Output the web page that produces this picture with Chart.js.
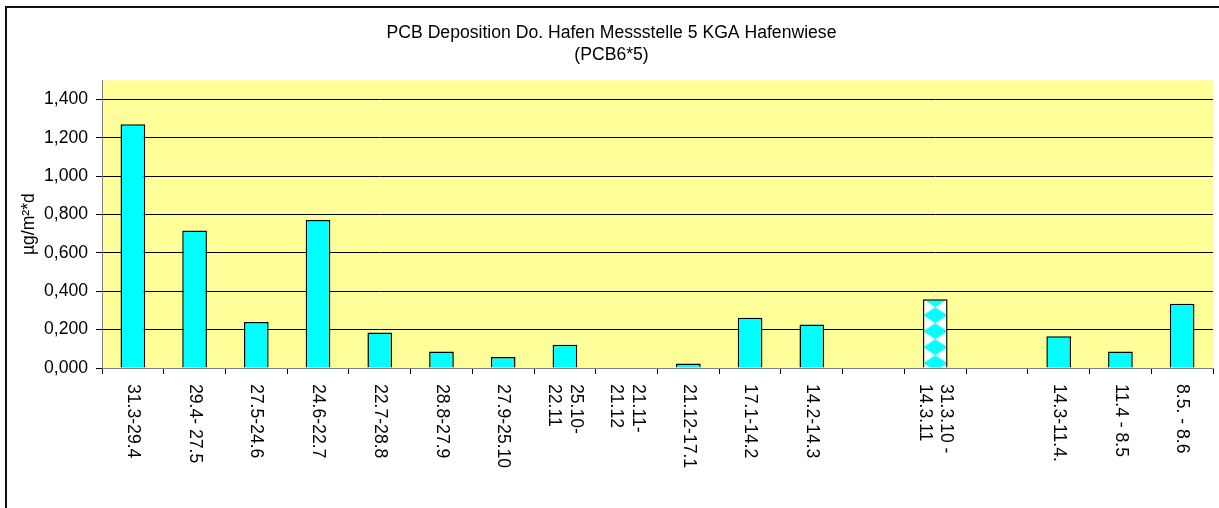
<!DOCTYPE html>
<html>
<head>
<meta charset="utf-8">
<script src="https://cdn.jsdelivr.net/npm/chart.js@4.4.1/dist/chart.umd.min.js"></script>
<style>
  html, body { margin: 0; padding: 0; background: #fff; overflow: hidden; }
  #wrap { position: relative; width: 1219px; height: 508px; }
  #rahmen { position: absolute; left: 5px; top: 6px; width: 1400px; height: 700px; border: 2px solid #111; pointer-events: none; }
</style>
</head>
<body>
<div id="wrap">
  <canvas id="grafico" width="1219" height="508"></canvas>
  <div id="rahmen"></div>
</div>
<script>
// Messzeiträume (Kategorien), mehrzeilige Beschriftungen als Arrays
const kategorien = [
  '31.3-29.4', '29.4- 27.5', '27.5-24.6', '24.6-22.7', '22.7-28.8', '28.8-27.9',
  '27.9-25.10', ['25.10-', '22.11'], ['21.11-', '21.12'], '21.12-17.1', '17.1-14.2',
  '14.2-14.3', '', ['31.3.10 -', '14.3.11'], '', '14.3-11.4.', '11.4 - 8.5', '8.5. - 8.6'
];

// PCB Deposition in µg/m²*d
const werte = [
  1.270, 0.717, 0.240, 0.771, 0.185, 0.086, 0.057, 0.121, null,
  0.024, 0.262, 0.227, null, 0.359, null, 0.165, 0.086, 0.335
];

// Y-Achsen-Beschriftung
const yTicks = [0, 0.2, 0.4, 0.6, 0.8, 1.0, 1.2, 1.4];

// Jahreswert (gemustert dargestellt)
const musterIndex = 13;

const schrift = "'Liberation Sans', Arial, sans-serif";
const groesse = 17.6;

// Rautenmuster weiß/cyan für den Jahresbalken
const erzeugeMuster = (ctx) => {
  const b = 24, h = 16;
  const kachel = document.createElement('canvas');
  kachel.width = b;
  kachel.height = h;
  const k = kachel.getContext('2d');
  k.fillStyle = '#ffffff';
  k.fillRect(0, 0, b, h);
  k.fillStyle = '#00ffff';
  k.beginPath();
  k.moveTo(b / 2, 0);
  k.lineTo(b, h / 2);
  k.lineTo(b / 2, h);
  k.lineTo(0, h / 2);
  k.closePath();
  k.fill();
  return { muster: ctx.createPattern(kachel, 'repeat'), b, h };
};

const canvas = document.getElementById('grafico');
const ctx = canvas.getContext('2d');
const raute = erzeugeMuster(ctx);

const farben = werte.map((_, i) => (i === musterIndex ? raute.muster : '#00ffff'));

// Hintergrund der Zeichenfläche
const hintergrund = {
  id: 'hintergrund',
  beforeDraw(chart) {
    const { ctx, chartArea } = chart;
    ctx.save();
    ctx.fillStyle = '#ffff99';
    ctx.fillRect(chartArea.left, chartArea.top, chartArea.right - chartArea.left, chartArea.bottom - chartArea.top);
    ctx.restore();
  },
  beforeDatasetsDraw(chart) {
    const el = chart.getDatasetMeta(0).data[musterIndex];
    if (el) {
      raute.muster.setTransform(new DOMMatrix().translate(el.x - raute.b / 2, el.y - raute.h / 2));
    }
  }
};

// Senkrechte Beschriftung der Kategorien (von oben nach unten gelesen)
const xBeschriftung = {
  id: 'xBeschriftung',
  afterDraw(chart) {
    const { ctx } = chart;
    const xAchse = chart.scales.x;
    const zeilenHoehe = 21.5;
    ctx.save();
    ctx.font = `${groesse}px ${schrift}`;
    ctx.fillStyle = '#000';
    ctx.textAlign = 'left';
    ctx.textBaseline = 'middle';
    kategorien.forEach((kat, i) => {
      const zeilen = Array.isArray(kat) ? kat : [kat];
      const x = xAchse.getPixelForValue(i);
      ctx.save();
      ctx.translate(x, xAchse.top + 16);
      ctx.rotate(Math.PI / 2);
      zeilen.forEach((z, j) => {
        ctx.fillText(z, 0, (j - (zeilen.length - 1) / 2) * zeilenHoehe);
      });
      ctx.restore();
    });
    ctx.restore();
  }
};

new Chart(ctx, {
  type: 'bar',
  data: {
    labels: kategorien,
    datasets: [{
      data: werte,
      backgroundColor: farben,
      borderColor: '#000',
      borderWidth: 1.5,
      barPercentage: 0.4,
      categoryPercentage: 1.0
    }]
  },
  options: {
    responsive: false,
    animation: false,
    layout: {
      padding: { left: 10, right: 6, top: 0, bottom: 134 }
    },
    scales: {
      x: {
        offset: true,
        grid: {
          display: true,
          offset: true,
          drawOnChartArea: false,
          drawTicks: true,
          tickLength: 6,
          color: '#000'
        },
        border: { color: '#808080', width: 1 },
        ticks: { display: false }
      },
      y: {
        min: 0,
        max: 1.5,
        afterBuildTicks: (achse) => {
          achse.ticks = yTicks.map(v => ({ value: v }));
        },
        afterFit: (achse) => {
          achse.width = 92;
        },
        grid: {
          color: '#000',
          lineWidth: 1,
          tickLength: 6
        },
        border: { color: '#808080', width: 1 },
        ticks: {
          padding: 8,
          color: '#000',
          font: { family: schrift, size: groesse },
          callback: (v) => Number(v).toFixed(3).replace('.', ',')
        },
        title: {
          display: true,
          text: 'µg/m²*d',
          color: '#000',
          font: { family: schrift, size: groesse },
          padding: { top: 9, bottom: 0 }
        }
      }
    },
    plugins: {
      legend: { display: false },
      tooltip: { enabled: false },
      title: {
        display: true,
        text: ['PCB Deposition Do. Hafen Messstelle 5 KGA Hafenwiese', '(PCB6*5)'],
        color: '#000',
        font: { family: schrift, size: groesse, weight: 'normal' },
        padding: { top: 23, bottom: 15 }
      }
    }
  },
  plugins: [hintergrund, xBeschriftung]
});
</script>
</body>
</html>
